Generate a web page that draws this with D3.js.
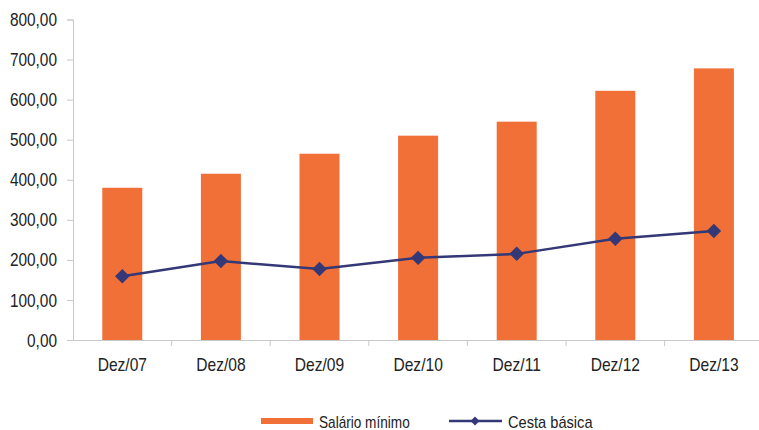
<!DOCTYPE html>
<html><head><meta charset="utf-8">
<script src="https://cdn.jsdelivr.net/npm/d3@7"></script>
<style>body{margin:0;background:#fff}svg{display:block}text{font-family:"Liberation Sans",Arial,sans-serif;fill:#222}</style>
</head><body><svg id="c" width="759" height="430"></svg>
<script>
const categories = ["Dez/07","Dez/08","Dez/09","Dez/10","Dez/11","Dez/12","Dez/13"];
const salarioMinimo = [380, 415, 465, 510, 545, 622, 678];
const cestaBasica = [159, 197, 177, 205, 215, 253, 272];
const yTicks = [0,100,200,300,400,500,600,700,800];
const seriesNames = ["Salário mínimo","Cesta básica"];

(function(){
const svg = d3.select("#c");
const mLeft = 73, mTop = 19.5, mBottom = 340, bandW = 98.6;
const x = d3.scaleBand().domain(categories).range([mLeft, mLeft + bandW*categories.length]).paddingInner(0).paddingOuter(0);
const y = d3.scaleLinear().domain([0,800]).range([mBottom, mTop]);
const orange = "#F07037", navy = "#343876", axisCol = "#c9c9c9";
const fmt = d => d3.format(".2f")(d).replace(".", ",");
const condense = (sel, k) => sel.each(function(){ const l = this.getComputedTextLength(); d3.select(this).attr("textLength", l*k).attr("lengthAdjust","spacingAndGlyphs"); });

// y axis
const ya = svg.append("g").attr("transform",`translate(${mLeft},0)`)
  .call(d3.axisLeft(y).tickValues(yTicks).tickFormat(fmt).tickSize(6).tickPadding(10));
ya.select(".domain").attr("stroke",axisCol);
ya.selectAll(".tick line").attr("stroke",axisCol);
ya.selectAll(".tick text").style("font-size","19px").attr("fill","#222").attr("x",-16).call(condense,0.81);

// bars
const bw = 40;
svg.append("g").selectAll("rect").data(salarioMinimo).join("rect")
  .attr("x",(d,i)=>x(categories[i])+x.bandwidth()/2-bw/2)
  .attr("y",d=>y(d)).attr("width",bw).attr("height",d=>mBottom-y(d)).attr("fill",orange);

// x axis
const xa = svg.append("g").attr("transform",`translate(0,${mBottom})`)
  .call(d3.axisBottom(x).tickSize(0).tickPadding(18));
xa.select(".domain").attr("stroke",axisCol);
xa.selectAll(".tick text").style("font-size","19px").attr("fill","#222").call(condense,0.82);
svg.append("g").selectAll("line").data(categories).join("line")
  .attr("x1",(d,i)=>mLeft+bandW*(i+1)).attr("x2",(d,i)=>mLeft+bandW*(i+1))
  .attr("y1",mBottom).attr("y2",mBottom+6).attr("stroke",axisCol);

// line
const cx = (i)=>x(categories[i])+x.bandwidth()/2;
svg.append("path").datum(cestaBasica)
  .attr("d", d3.line().x((d,i)=>cx(i)).y(d=>y(d)))
  .attr("fill","none").attr("stroke",navy).attr("stroke-width",2.5);
svg.append("g").selectAll("path").data(cestaBasica).join("path")
  .attr("d",d3.symbol().type(d3.symbolSquare).size(105))
  .attr("transform",(d,i)=>`translate(${cx(i)},${y(d)}) rotate(45)`)
  .attr("fill",navy);

// legend
const ly = 421;
svg.append("rect").attr("x",261).attr("y",ly-3).attr("width",52).attr("height",6).attr("fill",orange);
svg.append("text").attr("x",319).attr("y",ly+6.5).style("font-size","17px").text(seriesNames[0]).call(condense,0.8);
svg.append("line").attr("x1",449).attr("x2",502).attr("y1",ly).attr("y2",ly).attr("stroke",navy).attr("stroke-width",2.5);
svg.append("path").attr("d",d3.symbol().type(d3.symbolSquare).size(40)).attr("transform",`translate(475,${ly}) rotate(45)`).attr("fill",navy);
svg.append("text").attr("x",508).attr("y",ly+6.5).style("font-size","17px").text(seriesNames[1]).call(condense,0.86);
})();
</script></body></html>
